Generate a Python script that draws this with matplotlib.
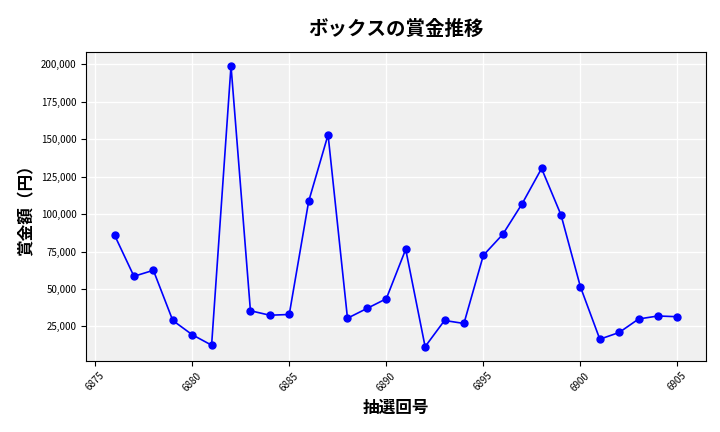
import matplotlib
matplotlib.use("Agg")
import matplotlib.pyplot as plt
from matplotlib.ticker import FuncFormatter

plt.rcParams['font.family'] = ['Noto Sans CJK JP', 'DejaVu Sans']

draws = list(range(6876, 6906))
prizes = [86000, 58500, 62500, 29000, 19500, 12500, 199000, 35500, 32500, 33000,
          108500, 153000, 30500, 37000, 43500, 76500, 11500, 29000, 27000, 72500,
          86500, 107000, 130500, 99500, 51500, 16500, 21000, 30000, 32000, 31500]

fig, ax = plt.subplots(figsize=(7.2, 4.32), dpi=100)
ax.set_facecolor('#f0f0f0')
ax.plot(draws, prizes, color='blue', marker='o', markersize=5, linewidth=1.2)
ax.grid(True, color='white', linewidth=1)
ax.set_axisbelow(True)
ax.yaxis.set_major_formatter(FuncFormatter(lambda v, p: f"{int(v):,}"))
ax.set_xticks(range(6875, 6906, 5))
plt.setp(ax.get_xticklabels(), rotation=45, fontsize=7)
plt.setp(ax.get_yticklabels(), fontsize=7)
ax.set_title("ボックスの賞金推移", fontsize=14, fontweight='bold', pad=12)
ax.set_xlabel("抽選回号", fontsize=12, fontweight='bold')
ax.set_ylabel("賞金額（円）", fontsize=12, fontweight='bold')
fig.subplots_adjust(left=0.12, right=0.98, top=0.88, bottom=0.165)
plt.savefig("out.png")
